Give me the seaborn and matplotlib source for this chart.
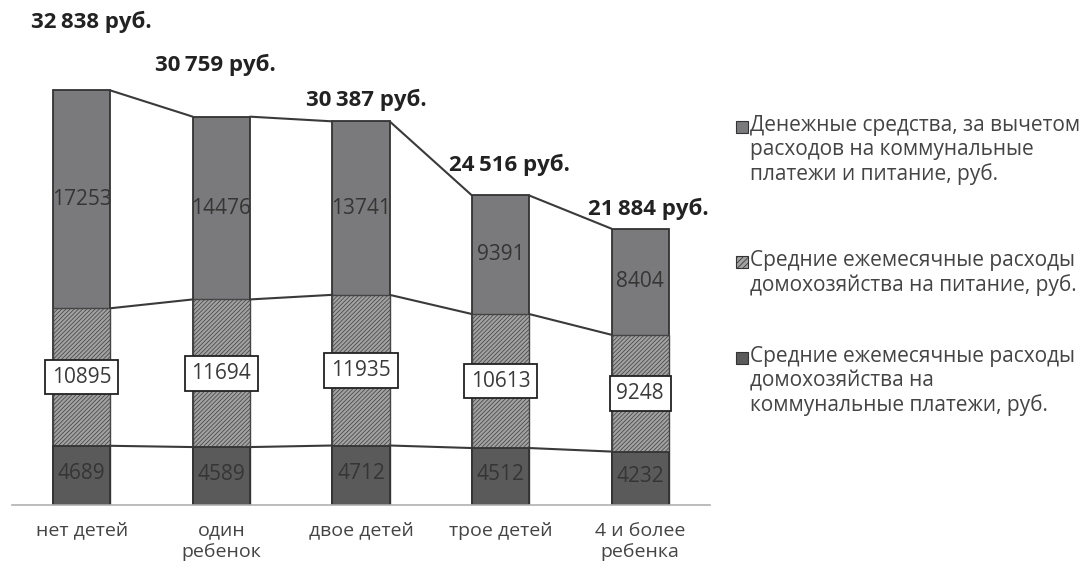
import matplotlib
matplotlib.use("Agg")
import matplotlib.pyplot as plt
from matplotlib.patches import Rectangle
import seaborn as sns
import numpy as np

# data
categories = ['нет детей', 'один\nребенок', 'двое детей', 'трое детей', '4 и более\nребенка']
utilities = [4689, 4589, 4712, 4512, 4232]
food = [10895, 11694, 11935, 10613, 9248]
cash = [17253, 14476, 13741, 9391, 8404]
totals = [32838, 30759, 30387, 24516, 21884]
total_labels = ['32\u2009838 руб.', '30\u2009759 руб.', '30\u2009387 руб.', '24\u2009516 руб.', '21\u2009884 руб.']
legend_labels = [
    'Денежные средства, за вычетом\nрасходов на коммунальные\nплатежи и питание, руб.',
    'Средние ежемесячные расходы\nдомохозяйства на питание, руб.',
    'Средние ежемесячные расходы\nдомохозяйства на\nкоммунальные платежи, руб.',
]

sns.set_style('white')
plt.rcParams['font.family'] = ['Open Sans', 'DejaVu Sans']
plt.rcParams['hatch.linewidth'] = 0.55

c_top = '#7a7a7c'
c_mid = '#a2a2a2'
c_bot = '#5a5a5a'
edge = '#333333'
txt = '#353535'
w = 0.41

fig = plt.figure(figsize=(10.87, 5.68), dpi=100)
ax = fig.add_axes([12 / 1087, 63 / 568, 698 / 1087, 505 / 568])

level_food = [u + f for u, f in zip(utilities, food)]
level_top = [u + f + c for u, f, c in zip(utilities, food, cash)]

# stacked via overlapping cumulative bars
sns.barplot(x=categories, y=level_top, color=c_top, saturation=1, width=w,
            edgecolor=edge, linewidth=1.3, ax=ax)
sns.barplot(x=categories, y=level_food, color=c_mid, saturation=1, width=w,
            edgecolor='#444444', linewidth=1.0, hatch='////////', ax=ax)
sns.barplot(x=categories, y=utilities, color=c_bot, saturation=1, width=w,
            edgecolor=edge, linewidth=1.3, ax=ax)

# connecting lines between bars
for lvl in [level_top, level_food, utilities]:
    for i in range(len(categories) - 1):
        ax.plot([i + w / 2, i + 1 - w / 2], [lvl[i], lvl[i + 1]], color='#3a3a3a', lw=1.5)

# segment labels
for i in range(len(categories)):
    ax.text(i, utilities[i] / 2 + 150, str(utilities[i]), ha='center', va='center',
            fontsize=15, color=txt)
    ax.text(i, utilities[i] + food[i] / 2, str(food[i]), ha='center', va='center',
            fontsize=15, color='#3a3a3a',
            bbox=dict(boxstyle='square,pad=0.33', fc='white', ec='#222222', lw=1.3))
    ax.text(i, level_food[i] + cash[i] / 2, str(cash[i]), ha='center', va='center',
            fontsize=15, color=txt)

# total labels (manually placed above bars)
lab_dx = [0.07, -0.04, 0.04, 0.06, 0.06]
lab_dy = [5400, 4100, 1700, 2400, 1560]
for i in range(len(categories)):
    ax.text(i + lab_dx[i], totals[i] + lab_dy[i], total_labels[i], ha='center', va='center',
            fontsize=16, fontweight='bold', color='#222222', clip_on=False)

ax.set_ylim(0, 40000)
ax.set_xlim(-0.5, len(categories) - 0.5)
ax.set_yticks([])
for s in ['left', 'top', 'right']:
    ax.spines[s].set_visible(False)
ax.spines['bottom'].set_color('#b0b0b0')
ax.spines['bottom'].set_linewidth(1.2)
ax.set_xticks(range(len(categories)), categories)
ax.set_xticks(np.arange(-0.5, len(categories)), minor=True)
ax.tick_params(axis='x', which='major', length=0, labelsize=14, labelcolor='#444444', pad=12)
ax.tick_params(axis='x', which='minor', length=6, color='#b0b0b0', width=1.2, direction='out')
for lab in ax.get_xticklabels():
    lab.set_linespacing(1.22)
ax.set_xlabel('')
ax.set_ylabel('')

# legend drawn by hand
leg_y = [127, 262, 358]
leg_fc = [c_top, c_mid, c_bot]
leg_hatch = [None, '//////', None]
for y, lab, fc, h in zip(leg_y, legend_labels, leg_fc, leg_hatch):
    fig.add_artist(Rectangle((736 / 1087, 1 - (y + 6) / 568), 12 / 1087, 12 / 568,
                             transform=fig.transFigure, fc=fc, ec=edge, lw=0.8, hatch=h))
    fig.text(750 / 1087, 1 - (y - 12) / 568, lab, ha='left', va='top', fontsize=15,
             color='#444444', linespacing=1.19)

fig.savefig('out.png', dpi=100)
